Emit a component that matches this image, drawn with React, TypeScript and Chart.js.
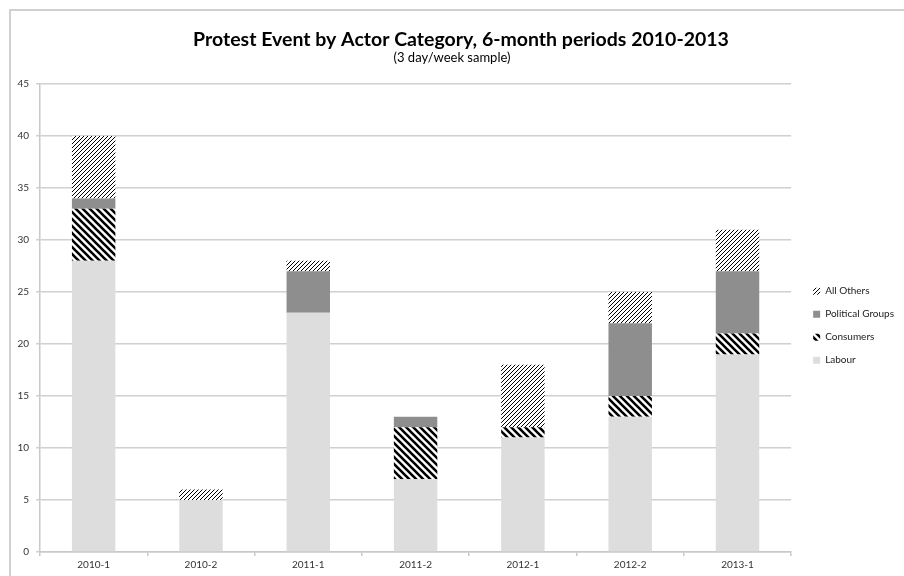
import React, { useEffect, useRef } from "react";
import { Chart, registerables } from "chart.js";

Chart.register(...registerables);

const categories = ["2010-1", "2010-2", "2011-1", "2011-2", "2012-1", "2012-2", "2013-1"];
const labour = [28, 5, 23, 7, 11, 13, 19];
const consumers = [5, 0, 0, 5, 1, 2, 2];
const politicalGroups = [1, 0, 4, 1, 0, 7, 6];
const allOthers = [6, 1, 1, 0, 6, 3, 4];
const yTicks = [0, 5, 10, 15, 20, 25, 30, 35, 40, 45];

const FONT = "Lato, 'Noto Sans', sans-serif";

function makeHatch(size: number, lw: number, forward: boolean): CanvasPattern | string {
  const c = document.createElement("canvas");
  c.width = size;
  c.height = size;
  const g = c.getContext("2d");
  if (!g) return "#000";
  g.fillStyle = "#ffffff";
  g.fillRect(0, 0, size, size);
  g.strokeStyle = "#000000";
  g.lineWidth = lw;
  g.beginPath();
  if (forward) {
    g.moveTo(0, size); g.lineTo(size, 0);
    g.moveTo(-1, 1); g.lineTo(1, -1);
    g.moveTo(size - 1, size + 1); g.lineTo(size + 1, size - 1);
  } else {
    g.moveTo(0, 0); g.lineTo(size, size);
    g.moveTo(-1, size - 1); g.lineTo(1, size + 1);
    g.moveTo(size - 1, -1); g.lineTo(size + 1, 1);
  }
  g.stroke();
  const ctx = document.createElement("canvas").getContext("2d");
  return (ctx && ctx.createPattern(c, "repeat")) || "#000";
}

const shiftTitle = {
  id: "shiftTitle",
  afterLayout(chart: any) {
    const t = chart.titleBlock;
    if (t) {
      t.left += 9;
      t.right += 9;
    }
  },
};

export default function App() {
  const ref = useRef<HTMLCanvasElement | null>(null);
  useEffect(() => {
    if (!ref.current) return;
    const othersPat = makeHatch(4, 1.0, true);
    const consPat = makeHatch(7, 2.6, false);
    const chart = new Chart(ref.current, {
      type: "bar",
      data: {
        labels: categories,
        datasets: [
          { label: "Labour", data: labour, backgroundColor: "#dddddd", borderWidth: 0 },
          { label: "Consumers", data: consumers, backgroundColor: consPat as any, borderWidth: 0 },
          { label: "Political Groups", data: politicalGroups, backgroundColor: "#8e8e8e", borderWidth: 0 },
          { label: "All Others", data: allOthers, backgroundColor: othersPat as any, borderWidth: 0 },
        ],
      },
      plugins: [shiftTitle],
      options: {
        animation: false,
        responsive: false,
        maintainAspectRatio: false,
        layout: { padding: { left: 0, right: 0, top: 0, bottom: 0 } },
        datasets: { bar: { categoryPercentage: 1, barPercentage: 0.405 } },
        plugins: {
          title: {
            display: true,
            text: "Protest Event by Actor Category, 6-month periods 2010-2013",
            color: "#000",
            font: { family: FONT, size: 19.5, weight: "bold", lineHeight: 1.1 },
            padding: { top: 29.3, bottom: 0 },
          },
          subtitle: {
            display: true,
            text: "(3 day/week sample)",
            color: "#000",
            font: { family: FONT, size: 13, lineHeight: 1.0 },
            padding: { top: 0.5, bottom: 19.8 },
          },
          legend: {
            position: "right",
            align: "center",
            reverse: true,
            title: { display: true, text: " ", font: { size: 10, lineHeight: 1.2 }, padding: { top: 31.7, bottom: 31.7 } },
            labels: {
              boxWidth: 7,
              boxHeight: 7,
              padding: 13,
              color: "#222",
              font: { family: FONT, size: 10 },
            },
          },
          tooltip: { enabled: false },
        },
        scales: {
          x: {
            stacked: true,
            offset: true,
            grid: { display: true, drawOnChartArea: false, drawTicks: true, tickLength: 4, offset: true, color: "#c8c8c8", lineWidth: 1.5 },
            border: { display: true, color: "#c8c8c8", width: 1.5 },
            ticks: { color: "#333", font: { family: FONT, size: 10 }, padding: 3 },
            afterFit: (s: any) => { s.height = 24; },
          },
          y: {
            stacked: true,
            min: 0,
            max: 45,
            afterBuildTicks: (s: any) => { s.ticks = yTicks.map((v) => ({ value: v })); },
            grid: { color: "#d0d0d0", lineWidth: 1.5, tickLength: 4 },
            border: { display: true, color: "#c8c8c8", width: 1.5 },
            ticks: { color: "#333", font: { family: FONT, size: 10 }, padding: 7 },
            afterFit: (s: any) => { s.width = 40; },
          },
          gap: {
            position: "right",
            display: true,
            grid: { display: false },
            border: { display: false },
            ticks: { display: false },
            afterFit: (s: any) => { s.width = 9; },
          },
        },
      } as any,
    });
    return () => chart.destroy();
  }, []);
  return (
    <div style={{ position: "absolute", left: 0, top: 0, width: 904, height: 576, overflow: "hidden", background: "#fff" }}>
      <div style={{ position: "absolute", left: 9, top: 9, width: 920, height: 600, borderLeft: "2px solid #d0d0d0", borderTop: "2px solid #d0d0d0" }} />
      <canvas ref={ref} width={904} height={576} style={{ position: "absolute", left: 0, top: 0 }} />
    </div>
  );
}
